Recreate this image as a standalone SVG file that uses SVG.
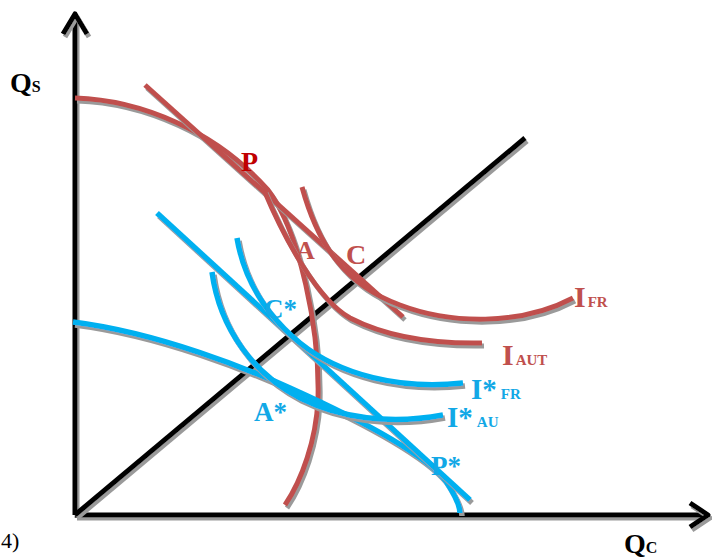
<svg xmlns="http://www.w3.org/2000/svg" width="712" height="559" viewBox="0 0 712 559">
<style>
.ln{fill:none;stroke-linecap:butt;stroke-linejoin:round;filter:url(#sh)}
.ax{stroke:#000;stroke-width:5}
.red{stroke:#c0504d;stroke-width:5}
.blue{stroke:#00b0f0;stroke-width:5.5}
.t{font-family:"Liberation Serif","Times New Roman",serif;font-weight:bold}
.tr{fill:#c0504d}
.tb{fill:#12a8e6}
</style>
<defs>
<filter id="sh" filterUnits="userSpaceOnUse" x="0" y="0" width="712" height="559">
<feFlood flood-color="#9a9a9a"/>
<feComposite in2="SourceAlpha" operator="in"/>
<feOffset dx="2" dy="3" result="s"/>
<feMerge><feMergeNode in="s"/><feMergeNode in="SourceGraphic"/></feMerge>
</filter>
</defs>
<g id="axes">
<path class="ln ax" d="M75,515 V14"/>
<path class="ln ax" d="M63,34 L75,14 L87,34"/>
<path class="ln ax" d="M75,515 H708"/>
<path class="ln ax" d="M690,503 L708,515 L690,527"/>
<path class="ln ax" d="M75,515 L525,138"/>
</g>
<g id="connectors">
<g id="red-curves">
<path class="ln red" d="M75,98 C140,100 215,130 268,190 C300,232 320,330 318,400 C316,440 302,480 285,505"/>
<path class="ln red" d="M145,85 L403,317"/>
<path class="ln red" d="M264,190 C285,240 318,300 350,318 C385,336 430,344 482,343"/>
<path class="ln red" d="M302,187 C318,245 345,285 400,305 C450,324 520,326 573,298"/>
</g>
<g id="blue-curves">
<path class="ln blue" d="M73,322 C160,333 250,370 290,388 C350,415 420,450 445,480 C455,495 460,505 460,513"/>
<path class="ln blue" d="M157,213 L470,500"/>
<path class="ln blue" d="M212,272 C220,330 255,375 300,398 C340,418 390,425 443,415"/>
<path class="ln blue" d="M237,238 C245,285 270,318 300,343 C340,375 400,390 463,383"/>
</g>
</g>
<g id="labels">
<text class="t" x="10" y="92" font-size="28">Q<tspan font-size="16">S</tspan></text>
<text class="t" x="624" y="553" font-size="28">Q<tspan font-size="16">C</tspan></text>
<text x="1" y="548" font-family="Liberation Serif, serif" font-size="22">4)</text>
<text class="t" x="241" y="171" font-size="28" fill="#c00000">P</text>
<text class="t tr" x="296" y="259" font-size="26">A</text>
<text class="t tr" x="346" y="264" font-size="28">C</text>
<text class="t tr" x="574" y="307" font-size="30">I<tspan font-size="15" dx="2">FR</tspan></text>
<text class="t tr" x="502" y="365" font-size="30">I<tspan font-size="15" dx="2">AUT</tspan></text>
<text class="t tb" x="264" y="318" font-size="27">C*</text>
<text class="t tb" x="254" y="421" font-size="27">A*</text>
<text class="t tb" x="431" y="475" font-size="27">P*</text>
<text class="t tb" x="471" y="399" font-size="29">I*<tspan font-size="15" dx="4">FR</tspan></text>
<text class="t tb" x="447" y="427" font-size="29">I*<tspan font-size="15" dx="4">AU</tspan></text>
</g>
</svg>
